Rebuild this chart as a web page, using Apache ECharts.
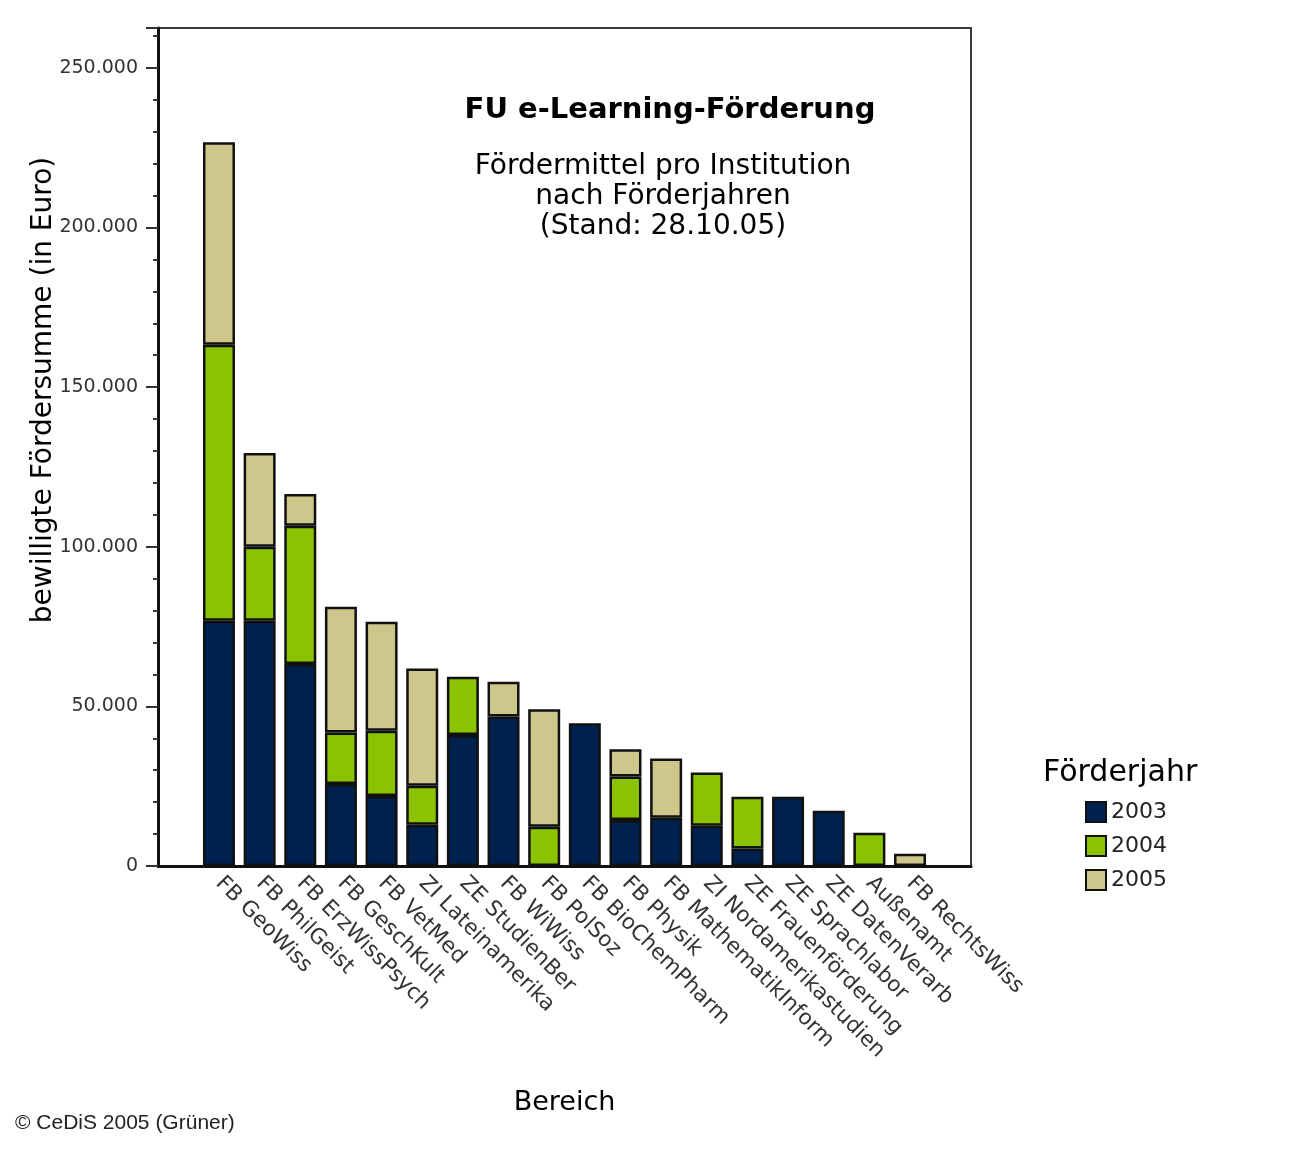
<!DOCTYPE html>
<html>
<head>
<meta charset="utf-8">
<title>FU e-Learning-Förderung</title>
<script src="https://cdn.jsdelivr.net/npm/echarts@6/dist/echarts.min.js"></script>
<style>
  html, body { margin: 0; padding: 0; background: #fff; }
  #chart { width: 1296px; height: 1152px; }
</style>
</head>
<body>
<div id="chart"></div>
<script>
// categories along the x axis (sorted by total)
const categories = [
  'FB GeoWiss', 'FB PhilGeist', 'FB ErzWissPsych', 'FB GeschKult', 'FB VetMed',
  'ZI Lateinamerika', 'ZE StudienBer', 'FB WiWiss', 'FB PolSoz', 'FB BioChemPharm',
  'FB Physik', 'FB MathematikInform', 'ZI Nordamerikastudien', 'ZE Frauenförderung',
  'ZE Sprachlabor', 'ZE DatenVerarb', 'Außenamt', 'FB RechtsWiss'
];
// funding per year, in euro (0 = nothing that year)
const v2003 = [76800, 76800, 63300, 25700, 21900, 12900, 41000, 46800, 0, 44700,
               14400, 15100, 12600, 5500, 21700, 17300, 0, 0];
const v2004 = [86500, 23200, 43300, 16100, 20500, 12200, 18300, 0, 12300, 0,
               13600, 0, 16700, 16200, 0, 0, 10400, 0];
const v2005 = [63400, 29400, 9900, 39400, 34100, 36800, 0, 10900, 36800, 0,
               8600, 18600, 0, 0, 0, 0, 0, 3800];
const years = ['2003', '2004', '2005'];
const yearColors = ['#00204e', '#8cc300', '#cdc78c'];
const yTicks = { min: 0, max: 262500, step: 50000 };

function fmtDe(v) {
  return String(v).replace(/\B(?=(\d{3})+(?!\d))/g, '.');
}

// one empty slot on each side, like the original frame
const padCats = [''].concat(categories, ['']);
function padVals(arr) {
  return [null].concat(arr.map(v => (v ? v : null)), [null]);
}
const isReal = (i) => i > 0 && i <= categories.length;

const chart = echarts.init(document.getElementById('chart'));
const series = [v2003, v2004, v2005].map(function (vals, i) {
  return {
    name: years[i],
    type: 'bar',
    stack: 'total',
    barWidth: 32,
    data: padVals(vals),
    itemStyle: { color: yearColors[i], borderColor: '#111', borderWidth: 2.5 },
    emphasis: { disabled: true }
  };
});

chart.setOption({
  animation: false,
  textStyle: { fontFamily: 'DejaVu Sans' },
  title: [
    {
      text: 'FU e-Learning-Förderung',
      left: 665, top: 91, textAlign: 'center',
      textStyle: { fontSize: 29, fontWeight: 'bold', color: '#000' }
    },
    {
      text: 'Fördermittel pro Institution\nnach Förderjahren\n(Stand: 28.10.05)',
      left: 658, top: 147, textAlign: 'center',
      textStyle: { fontSize: 28, lineHeight: 30, fontWeight: 'normal', color: '#000' }
    },
    {
      text: 'Förderjahr',
      left: 1038, top: 753,
      textStyle: { fontSize: 30, fontWeight: 'normal', color: '#000' }
    },
    {
      text: '© CeDiS 2005 (Grüner)',
      left: 10, top: 1108,
      textStyle: { fontFamily: 'Liberation Sans', fontSize: 21, fontWeight: 'normal', color: '#222' }
    }
  ],
  legend: {
    orient: 'vertical',
    left: 1080, top: 796,
    itemWidth: 20, itemHeight: 20, itemGap: 12,
    icon: 'rect',
    selectedMode: false,
    data: years,
    textStyle: { fontSize: 22, color: '#222', lineHeight: 22 }
  },
  grid: { left: 158, top: 28, width: 813, height: 838, show: true, borderColor: '#3a3a3a', borderWidth: 2 },
  xAxis: {
    type: 'category',
    data: padCats,
    name: 'Bereich',
    nameLocation: 'middle',
    nameGap: 223,
    nameMoveOverlap: false,
    nameTextStyle: { fontSize: 27, color: '#000' },
    axisLine: { lineStyle: { color: '#111', width: 3 } },
    axisTick: {
      alignWithLabel: true, length: 14,
      interval: function (i) { return isReal(i); },
      lineStyle: { color: '#333', width: 2 }
    },
    axisLabel: {
      rotate: -45, interval: 0, margin: 14,
      fontSize: 21.5, color: '#333'
    }
  },
  yAxis: {
    type: 'value',
    min: yTicks.min, max: yTicks.max, interval: yTicks.step,
    name: 'bewilligte Fördersumme (in Euro)',
    nameLocation: 'middle',
    nameGap: 100,
    nameMoveOverlap: false,
    nameTextStyle: { fontSize: 28, color: '#000', padding: [0, 0, 0, 114] },
    axisLine: { show: true, lineStyle: { color: '#111', width: 3 } },
    axisTick: { show: true, length: 12, lineStyle: { color: '#333', width: 2 } },
    minorTick: { show: true, splitNumber: 5, length: 5, lineStyle: { color: '#333', width: 2 } },
    splitLine: { show: false },
    axisLabel: {
      showMaxLabel: false, margin: 20,
      fontSize: 19, color: '#333',
      formatter: fmtDe
    }
  },
  series: series
});
</script>
</body>
</html>
